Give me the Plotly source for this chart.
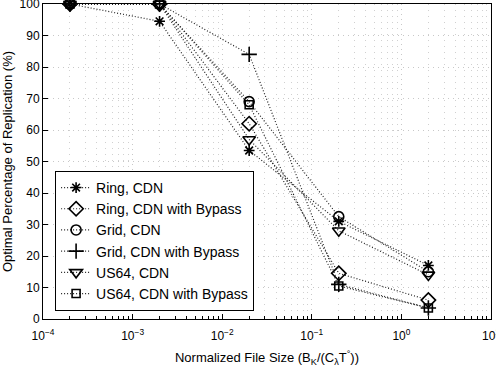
import plotly.graph_objects as go

x_vals = [2e-4, 2e-3, 2e-2, 2e-1, 2]
ring_cdn = [100, 94.5, 53.5, 31, 17]
ring_bypass = [100, 100, 62, 14.5, 6]
grid_cdn = [100, 100, 69, 32.5, 15]
grid_bypass = [100, 100, 84, 11, 3.5]
us64_cdn = [100, 100, 57, 28, 14]
us64_bypass = [100, 100, 68, 10.5, 3.5]

names = ["Ring, CDN", "Ring, CDN with Bypass", "Grid, CDN",
         "Grid, CDN with Bypass", "US64, CDN", "US64, CDN with Bypass"]
series = [ring_cdn, ring_bypass, grid_cdn, grid_bypass, us64_cdn, us64_bypass]
symbols = ["asterisk-open", "diamond-open", "circle-open",
           "cross-thin-open", "triangle-down-open", "square-open"]
sizes = [9, 11, 10, 11, 11, 8]

x_tickvals = [1e-4, 1e-3, 1e-2, 1e-1, 1, 10]
x_ticktext = ["10<sup>−4</sup>", "10<sup>−3</sup>", "10<sup>−2</sup>",
              "10<sup>−1</sup>", "10<sup>0</sup>", "10<sup>1</sup>"]
y_tickvals = list(range(0, 101, 10))

minor_x = [m * 10 ** e for e in range(-4, 1) for m in range(2, 10)]

fig = go.Figure()
for name, ys, sym, sz in zip(names, series, symbols, sizes):
    fig.add_trace(go.Scatter(
        x=x_vals, y=ys, name=name, mode="lines+markers",
        line=dict(color="#222222", width=1.2, dash="1px,2px"),
        marker=dict(symbol=sym, size=sz, color="black",
                    line=dict(color="black", width=1.6)),
        cliponaxis=False,
    ))

axis_common = dict(
    showline=True, linecolor="black", linewidth=1, mirror=True,
    ticks="inside", ticklen=5, tickcolor="black",
    showgrid=True, gridcolor="#c8c8c8", griddash="1px,4px", gridwidth=1,
    zeroline=False, ticklabeloverflow="allow", automargin=False,
    tickfont=dict(family="Liberation Sans, Arial", size=12, color="black"),
    title_font=dict(family="Liberation Sans, Arial", size=13, color="black"),
)

fig.update_xaxes(
    type="log", range=[-4, 1],
    tickvals=x_tickvals, ticktext=x_ticktext,
    ticklabelstandoff=6,
    title_text="Normalized File Size (B<sub>K</sub>/(C<sub>λ</sub>T<sup>°</sup>))",
    title_standoff=10,
    minor=dict(tickvals=minor_x, ticks="inside", ticklen=3, tickcolor="black",
               showgrid=True, gridcolor="#d0d0d0", griddash="1px,5px"),
    **axis_common,
)
fig.update_yaxes(
    range=[0, 100], tickvals=y_tickvals,
    title_text="Optimal Percentage of Replication (%)",
    title_standoff=4,
    **axis_common,
)

fig.update_layout(
    width=496, height=367,
    margin=dict(l=43, r=5, t=4, b=48),
    paper_bgcolor="white", plot_bgcolor="white",
    font=dict(family="Liberation Sans, Arial", color="black"),
    legend=dict(
        x=0.027, y=0.47, xanchor="left", yanchor="top",
        bgcolor="white", bordercolor="black", borderwidth=1,
        font=dict(family="Liberation Sans, Arial", size=14, color="black"),
        tracegroupgap=0, itemwidth=30,
    ),
)

fig.write_html("out.html")
